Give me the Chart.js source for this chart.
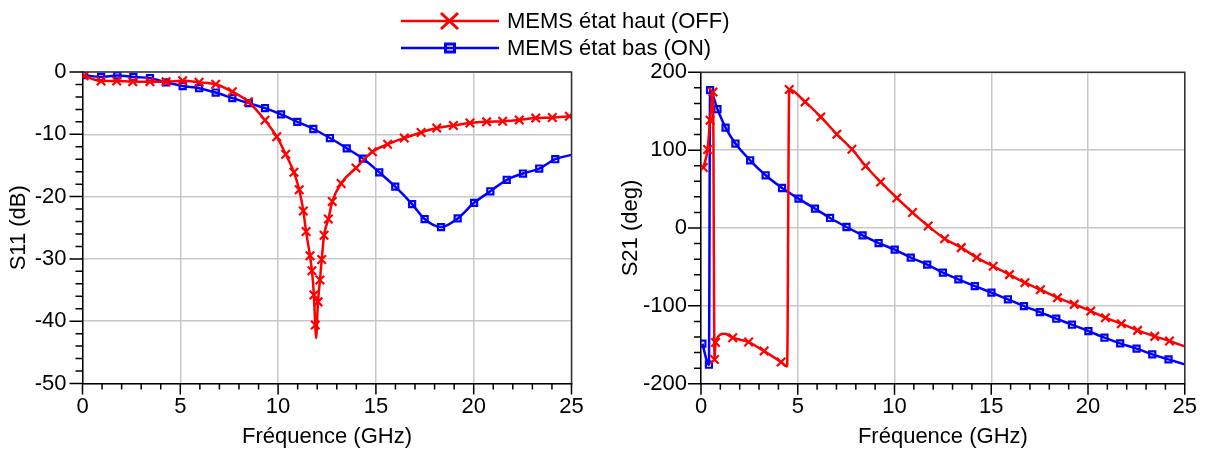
<!DOCTYPE html>
<html>
<head>
<meta charset="utf-8">
<script src="https://cdn.jsdelivr.net/npm/chart.js@4.4.1/dist/chart.umd.min.js"></script>
<style>
  body { margin: 0; background: #fff; width: 1207px; height: 452px; overflow: hidden; position: relative;
         font-family: "Liberation Sans", Arial, sans-serif; }
  .box { position: absolute; top: 0; height: 452px; }
  #left { left: 0; width: 600px; }
  #right { left: 600px; width: 607px; }
  #legend { position: absolute; left: 401px; top: 7px; font-size: 22px; color: #000; }
  .row { display: flex; align-items: center; height: 27px; white-space: nowrap; }
  .row canvas { margin-right: 8px; }
</style>
</head>
<body>
<div id="legend"></div>
<div class="box" id="left"><canvas id="s11"></canvas></div>
<div class="box" id="right"><canvas id="s21"></canvas></div>
<script>
// series labels
const seriesNames = ['MEMS état haut (OFF)', 'MEMS état bas (ON)'];

// S11 (dB), MEMS OFF
const s11OffFreq = [0.08, 0.95, 1.75, 2.57, 3.45, 4.27, 5.12, 5.96, 6.81, 7.66, 8.48, 9.33, 9.93, 10.39, 10.81,
  11.08, 11.29, 11.43, 11.63, 11.73, 11.83, 11.9, 11.94, 12.04, 12.14, 12.23, 12.35, 12.57, 12.77, 13.22,
  13.98, 14.82, 15.6, 16.45, 17.31, 18.11, 18.96, 19.81, 20.66, 21.48, 22.33, 23.17, 24.02, 24.89];
const s11OffDb = [-0.6, -1.45, -1.45, -1.55, -1.55, -1.55, -1.4, -1.65, -1.97, -3.16, -4.77, -7.75, -10.38, -13.2, -16.1,
  -18.9, -22.3, -25.6, -29.5, -31.9, -35.8, -40.6, -42.7, -36.9, -33.4, -30.1, -26.2, -23.6, -20.8, -17.9,
  -15.4, -12.8, -11.6, -10.6, -9.7, -9.0, -8.6, -8.2, -8.0, -7.9, -7.7, -7.4, -7.3, -7.1];
const s11OffNoMarker = [11.94];

// S11 (dB), MEMS ON
const s11OnFreq = [0.08, 0.95, 1.78, 2.6, 3.45, 4.27, 5.12, 5.96, 6.81, 7.66, 8.5, 9.33, 10.15, 10.98, 11.8,
  12.65, 13.51, 14.33, 15.17, 15.99, 16.85, 17.49, 18.33, 19.18, 20.02, 20.85, 21.69, 22.52, 23.35, 24.17, 25];
const s11OnDb = [-0.5, -0.8, -0.55, -0.8, -1.0, -1.65, -2.25, -2.6, -3.3, -4.2, -5.0, -5.8, -6.8, -8.0, -9.15,
  -10.6, -12.25, -13.9, -16.1, -18.4, -21.2, -23.6, -24.9, -23.5, -21.0, -19.15, -17.3, -16.3, -15.5, -14.0, -13.3];
const s11OnNoMarker = [25];

// S21 (deg), MEMS OFF
const s21OffFreq = [0.12, 0.34, 0.47, 0.62, 0.7, 0.75, 1.22, 1.64, 2.46, 3.26, 4.14, 4.45, 4.56, 5.38, 6.19,
  7.02, 7.8, 8.51, 9.28, 10.12, 10.93, 11.74, 12.59, 13.45, 14.25, 15.1, 15.94, 16.74, 17.54, 18.42,
  19.29, 20.14, 20.9, 21.72, 22.56, 23.45, 24.21, 25];
const s21OffDeg = [77.6, 100.8, 138.4, 174.8, -169, -147, -135.7, -141, -146.5, -158.1, -172.2, -177.8, 177.9, 162, 142.7,
  120.4, 101.2, 79.7, 59.1, 38.6, 19.8, 2.6, -13.9, -25.2, -38.0, -49.2, -59.9, -70.2, -79.2, -89.5,
  -98.1, -106.7, -115.2, -122.9, -131.5, -139.2, -145.2, -152.1];
const s21OffNoMarker = [1.22, 4.45, 25];

// S21 (deg), MEMS ON
const s21OnFreq = [0.07, 0.41, 0.47, 0.85, 1.27, 1.78, 2.54, 3.34, 4.19, 5.04, 5.89, 6.67, 7.52, 8.35, 9.18,
  10.01, 10.84, 11.69, 12.5, 13.3, 14.15, 15.01, 15.86, 16.69, 17.51, 18.36, 19.17, 20.02, 20.85, 21.66,
  22.51, 23.32, 24.16, 25];
const s21OnDeg = [-148.6, -175.6, 177, 152.6, 129, 108.5, 87, 67.7, 51.4, 37.8, 24.9, 12.9, 1.3, -9.4, -19.3,
  -27.8, -38.0, -47.0, -57.3, -65.9, -74.6, -83.0, -91.6, -100.3, -108.0, -116.5, -124.2, -132.4, -140.9, -148.2,
  -155.0, -162.3, -168.8, -175.2];
const s21OnNoMarker = [25];

const RED = '#ff0000';
const BLUE = '#0000ff';
const FONT = '"Liberation Sans", Arial, sans-serif';

Chart.defaults.font.family = FONT;
Chart.defaults.font.size = 22;
Chart.defaults.color = '#000';

// tick marks (long major, short minor) and the dark frame on top/right
const axisMarks = {
  id: 'axisMarks',
  afterDraw(chart, args, opts) {
    const { ctx, chartArea: a, scales } = chart;
    ctx.save();
    ctx.lineWidth = 1.5;
    ctx.strokeStyle = '#000';
    ctx.beginPath();
    scales.x.ticks.forEach(t => {
      const p = scales.x.getPixelForValue(t.value);
      const len = t.value % opts.xMajor === 0 ? 11 : 6;
      ctx.moveTo(p, a.bottom);
      ctx.lineTo(p, a.bottom + len);
    });
    scales.y.ticks.forEach(t => {
      const p = scales.y.getPixelForValue(t.value);
      const len = t.value % opts.yMajor === 0 ? 13 : 7;
      ctx.moveTo(a.left, p);
      ctx.lineTo(a.left - len, p);
    });
    ctx.stroke();
    ctx.strokeStyle = '#333';
    ctx.beginPath();
    ctx.moveTo(a.left, a.top);
    ctx.lineTo(a.right, a.top);
    ctx.lineTo(a.right, a.bottom);
    ctx.stroke();
    ctx.restore();
  }
};

function series(label, freq, vals, color, style, noMarker) {
  return {
    label,
    data: freq.map((f, i) => ({ x: f, y: vals[i] })),
    borderColor: color,
    borderWidth: 2.5,
    cubicInterpolationMode: 'monotone',
    pointStyle: style,
    pointBorderColor: color,
    pointBackgroundColor: 'rgba(0,0,0,0)',
    pointBorderWidth: 2.2,
    pointRadius: c => (noMarker.includes(c.raw.x) ? 0 : (style === 'rect' ? 4.3 : 6)),
    fill: false
  };
}

function makeChart(id, datasets, y, title, box) {
  return new Chart(document.getElementById(id), {
    type: 'line',
    data: { datasets },
    plugins: [axisMarks],
    options: {
      responsive: true,
      maintainAspectRatio: false,
      animation: false,
      layout: { padding: { top: box.top, right: box.right, left: 0, bottom: 0 } },
      plugins: {
        legend: { display: false },
        tooltip: { enabled: false },
        axisMarks: { xMajor: 5, yMajor: y.step * 5 }
      },
      scales: {
        x: {
          type: 'linear',
          min: 0, max: 25,
          afterFit: s => { s.height = box.xHeight; },
          border: { color: '#000', width: 1.5 },
          grid: {
            drawTicks: false,
            lineWidth: 1.5,
            color: c => (c.tick && c.tick.value % 5 === 0 ? '#c8c8c8' : 'rgba(0,0,0,0)')
          },
          ticks: {
            stepSize: 1, autoSkip: false, maxRotation: 0, padding: 10,
            callback: v => (v % 5 === 0 ? String(v) : '')
          },
          title: { display: true, text: 'Fréquence (GHz)', padding: { top: 0, bottom: 2 } }
        },
        y: {
          min: y.min, max: y.max,
          afterFit: s => { s.width = box.yWidth; },
          border: { color: '#000', width: 1.5 },
          grid: {
            drawTicks: false,
            lineWidth: 1.5,
            color: c => (c.tick && c.tick.value % (y.step * 5) === 0 ? '#c8c8c8' : 'rgba(0,0,0,0)')
          },
          ticks: {
            stepSize: y.step, autoSkip: false, padding: box.tickPad,
            callback: v => (v % (y.step * 5) === 0 ? String(v) : '')
          },
          title: { display: true, text: title, padding: { top: box.titlePad, bottom: 0 } }
        }
      }
    }
  });
}

makeChart('s11', [
  series(seriesNames[0], s11OffFreq, s11OffDb, RED, 'crossRot', s11OffNoMarker),
  series(seriesNames[1], s11OnFreq, s11OnDb, BLUE, 'rect', s11OnNoMarker)
], { min: -50, max: 0, step: 2 }, 'S11 (dB)',
  { top: 72, right: 28.5, xHeight: 68.5, yWidth: 82.5, tickPad: 16, titlePad: 5.5 });

makeChart('s21', [
  series(seriesNames[0], s21OffFreq, s21OffDeg, RED, 'crossRot', s21OffNoMarker),
  series(seriesNames[1], s21OnFreq, s21OnDeg, BLUE, 'rect', s21OnNoMarker)
], { min: -200, max: 200, step: 20 }, 'S21 (deg)',
  { top: 72.3, right: 17.7, xHeight: 68.3, yWidth: 101, tickPad: 14, titlePad: 18 });

// legend: line with a large marker in the middle
const legendEl = document.getElementById('legend');
[[RED, 'x'], [BLUE, 'sq']].forEach(([color, mark], i) => {
  const row = document.createElement('div');
  row.className = 'row';
  const cv = document.createElement('canvas');
  cv.width = 98; cv.height = 24;
  const g = cv.getContext('2d');
  g.strokeStyle = color;
  g.lineWidth = 2.5;
  g.beginPath(); g.moveTo(0, 12); g.lineTo(98, 12); g.stroke();
  g.lineWidth = 3;
  g.beginPath();
  if (mark === 'x') {
    g.moveTo(40, 4); g.lineTo(57, 20);
    g.moveTo(57, 4); g.lineTo(40, 20);
  } else {
    g.rect(44.5, 8, 9, 8);
  }
  g.stroke();
  const span = document.createElement('span');
  span.textContent = seriesNames[i];
  row.appendChild(cv);
  row.appendChild(span);
  legendEl.appendChild(row);
});
</script>
</body>
</html>
